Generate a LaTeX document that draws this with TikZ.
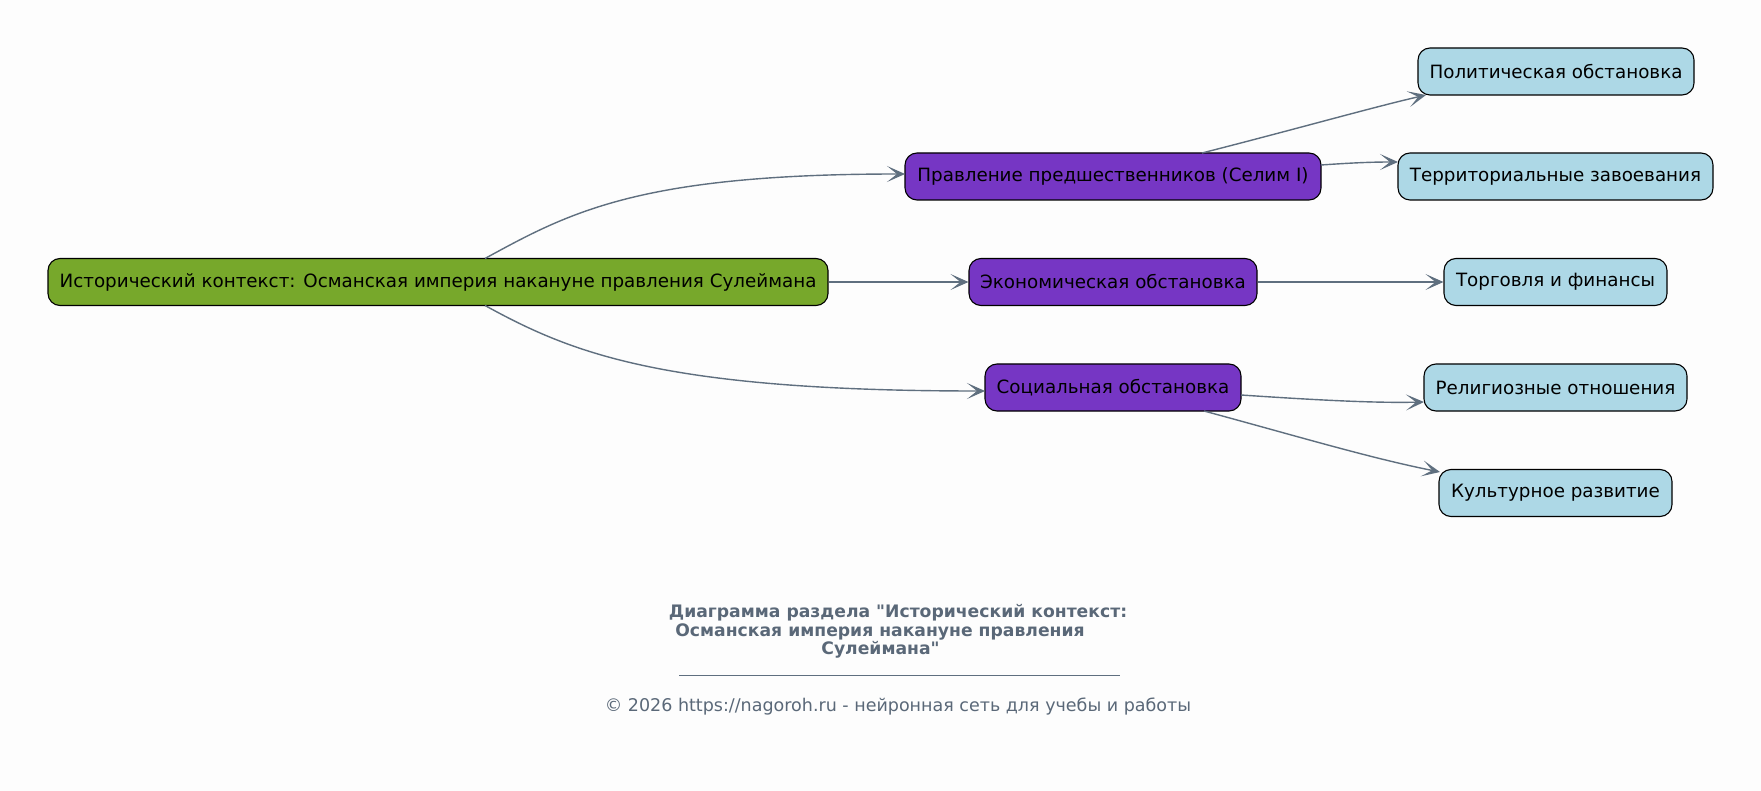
\documentclass[tikz,border=0pt]{standalone}
\usepackage{fontspec}
\setmainfont{DejaVu Sans}[Ligatures=TeXOff]
\usetikzlibrary{arrows.meta}
\definecolor{bgc}{HTML}{FDFDFD}
\definecolor{rootc}{HTML}{77A82B}
\definecolor{midc}{HTML}{7636C4}
\definecolor{leafc}{HTML}{ADD8E6}
\definecolor{edgec}{HTML}{5F6F7F}
\definecolor{titlec}{HTML}{5A6878}
\tikzset{
  box/.style={draw=black, line width=1.1pt, rounded corners=12pt, minimum height=47pt,
    inner sep=0pt, font=\fontsize{18.3}{22}\selectfont, text=black},
  rootbox/.style={box, fill=rootc},
  midbox/.style={box, fill=midc},
  leafbox/.style={box, fill=leafc},
  conn/.style={draw=edgec, line width=1.4pt, arrows={-Stealth[length=18pt,width=16pt,inset=10pt]}},
  ttl/.style={text=titlec, font=\fontsize{17.2}{20}\selectfont\bfseries, inner sep=0pt},
  foot/.style={text=titlec, font=\fontsize{17.5}{20}\selectfont, inner sep=0pt},
}
\begin{document}
\begin{tikzpicture}[x=1pt,y=-1pt]
\fill[bgc] (0,0) rectangle (1761,791);
\useasboundingbox (0,0) rectangle (1761,791);

\node[rootbox, minimum width=780pt] (root) at (438,282) {Исторический контекст: Османская империя накануне правления Сулеймана};
\node[midbox, minimum width=416pt] (selim) at (1113,176.5) {Правление предшественников (Селим I)};
\node[midbox, minimum width=288pt] (econ) at (1113,282) {Экономическая обстановка};
\node[midbox, minimum width=256pt] (soc) at (1113,387.5) {Социальная обстановка};
\node[leafbox, minimum width=276pt] (pol) at (1556,71.5) {Политическая обстановка};
\node[leafbox, minimum width=315pt] (terr) at (1555.5,176.5) {Территориальные завоевания};
\node[leafbox, minimum width=223pt] (trade) at (1555.5,282) {Торговля и финансы};
\node[leafbox, minimum width=263pt] (rel) at (1555.5,387.5) {Религиозные отношения};
\node[leafbox, minimum width=233pt] (cult) at (1555.5,493) {Культурное развитие};

\coordinate (r1) at (485,258.5);
\coordinate (r2) at (485,305.5);
\coordinate (se) at (905,174);
\coordinate (so) at (985,391);
\coordinate (s1) at (1202,153);
\coordinate (pe) at (1426,95);
\coordinate (s2) at (1321,165);
\coordinate (te) at (1398,162);
\coordinate (c0) at (1241,395);
\coordinate (re) at (1424,402);
\coordinate (c1) at (1204,411);
\coordinate (ce) at (1440,472);

\draw[conn] (r1) .. controls (570,212) and (640,174) .. (se);
\draw[conn] (r2) .. controls (570,352) and (660,391) .. (so);
\draw[conn] (root.east) -- (econ.west);
\draw[conn] (econ.east) -- (trade.west);
\draw[conn] (s1) .. controls (1300,128) and (1370,108) .. (pe);
\draw[conn] (s2) .. controls (1350,163) and (1370,162) .. (te);
\draw[conn] (c0) .. controls (1330,401) and (1380,403) .. (re);
\draw[conn] (c1) .. controls (1300,437) and (1370,458) .. (ce);

\node[ttl] (t1) at (898,613) {Диаграмма раздела "Исторический контекст:};
\node[ttl] (t2) at (880,632) {Османская империя накануне правления};
\node[ttl] (t3) at (880.5,650) {Сулеймана"};
\draw[edgec, line width=0.9pt] (679,675) -- (1120,675);
\node[foot] (ft) at (898,707) {© 2026 https://nagoroh.ru - нейронная сеть для учебы и работы};
\end{tikzpicture}
\end{document}
